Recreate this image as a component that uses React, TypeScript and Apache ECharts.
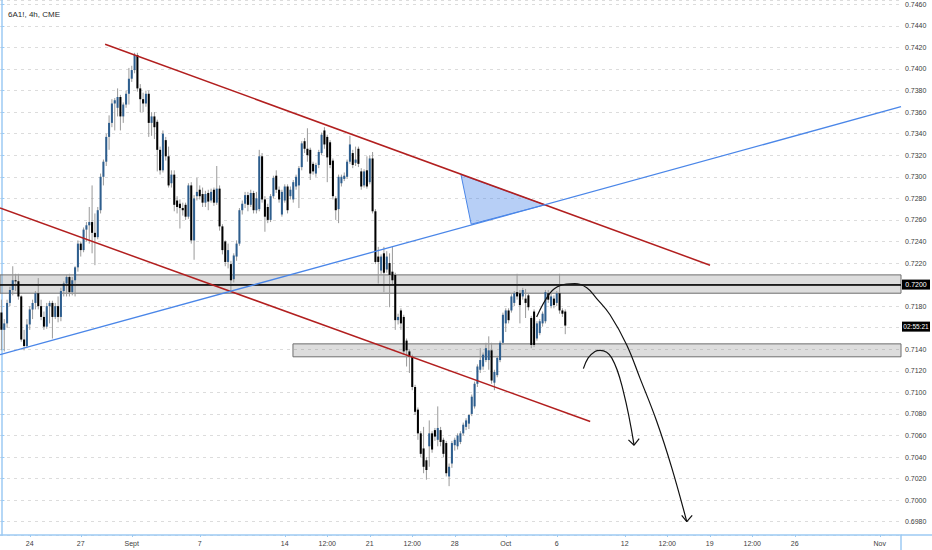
import React, { useEffect, useRef } from 'react';
import * as echarts from 'echarts';

// ---- time axis (4h bars, 6 bars per trading day) ----
const barCount = 318;
const categories = Array.from({ length: barCount }, (_, i) => String(i));
const tickBars = [10, 28, 46, 70, 100, 115, 130, 145, 160, 178, 196, 220, 235, 250, 265, 280, 310];
const tickLabels = ['24', '27', 'Sept', '7', '14', '12:00', '21', '12:00', '28', 'Oct', '6', '12', '12:00', '19', '12:00', '26', 'Nov'];

// ---- price candles: [open, close, low, high] ----
const candles: number[][] = [
  [0.7174, 0.7158, 0.7139, 0.7186], [0.7158, 0.7164, 0.7138, 0.7168], [0.7164, 0.7183, 0.7160, 0.7186], [0.7183, 0.7195, 0.7180, 0.7198],
  [0.7195, 0.7204, 0.7190, 0.7217], [0.7204, 0.7203, 0.7194, 0.7210], [0.7203, 0.7189, 0.7186, 0.7210], [0.7189, 0.7149, 0.7147, 0.7190],
  [0.7149, 0.7143, 0.7139, 0.7158], [0.7143, 0.7163, 0.7141, 0.7168], [0.7163, 0.7177, 0.7158, 0.7180], [0.7177, 0.7183, 0.7168, 0.7186],
  [0.7183, 0.7192, 0.7177, 0.7194], [0.7192, 0.7180, 0.7177, 0.7206], [0.7180, 0.7170, 0.7167, 0.7186], [0.7170, 0.7161, 0.7158, 0.7175],
  [0.7161, 0.7180, 0.7159, 0.7183], [0.7180, 0.7183, 0.7164, 0.7185], [0.7183, 0.7170, 0.7150, 0.7185], [0.7170, 0.7180, 0.7168, 0.7183],
  [0.7180, 0.7170, 0.7165, 0.7189], [0.7170, 0.7194, 0.7166, 0.7197], [0.7194, 0.7201, 0.7189, 0.7203], [0.7201, 0.7207, 0.7189, 0.7209],
  [0.7207, 0.7193, 0.7189, 0.7210], [0.7193, 0.7204, 0.7190, 0.7207], [0.7204, 0.7216, 0.7189, 0.7217], [0.7216, 0.7238, 0.7212, 0.7241],
  [0.7238, 0.7232, 0.7226, 0.7240], [0.7232, 0.7251, 0.7230, 0.7253], [0.7251, 0.7255, 0.7240, 0.7258], [0.7255, 0.7258, 0.7238, 0.7272],
  [0.7258, 0.7248, 0.7229, 0.7292], [0.7248, 0.7244, 0.7218, 0.7266], [0.7244, 0.7269, 0.7242, 0.7272], [0.7269, 0.7300, 0.7266, 0.7303],
  [0.7300, 0.7314, 0.7292, 0.7316], [0.7314, 0.7337, 0.7310, 0.7340], [0.7337, 0.7350, 0.7325, 0.7357], [0.7350, 0.7368, 0.7346, 0.7372],
  [0.7368, 0.7371, 0.7343, 0.7373], [0.7364, 0.7374, 0.7356, 0.7382], [0.7374, 0.7356, 0.7343, 0.7376], [0.7356, 0.7367, 0.7350, 0.7369],
  [0.7367, 0.7377, 0.7364, 0.7380], [0.7377, 0.7391, 0.7367, 0.7401], [0.7391, 0.7399, 0.7388, 0.7403], [0.7399, 0.7413, 0.7396, 0.7415],
  [0.7413, 0.7382, 0.7379, 0.7415], [0.7382, 0.7372, 0.7360, 0.7386], [0.7372, 0.7368, 0.7360, 0.7378], [0.7368, 0.7377, 0.7365, 0.7380],
  [0.7377, 0.7350, 0.7337, 0.7380], [0.7350, 0.7356, 0.7338, 0.7360], [0.7356, 0.7346, 0.7335, 0.7360], [0.7351, 0.7325, 0.7305, 0.7353],
  [0.7325, 0.7306, 0.7302, 0.7328], [0.7306, 0.7340, 0.7304, 0.7343], [0.7334, 0.7319, 0.7315, 0.7337], [0.7319, 0.7292, 0.7290, 0.7328],
  [0.7294, 0.7302, 0.7290, 0.7306], [0.7302, 0.7274, 0.7268, 0.7306], [0.7278, 0.7272, 0.7266, 0.7282], [0.7275, 0.7271, 0.7252, 0.7279],
  [0.7271, 0.7269, 0.7264, 0.7276], [0.7274, 0.7263, 0.7260, 0.7276], [0.7263, 0.7292, 0.7261, 0.7294], [0.7292, 0.7241, 0.7238, 0.7295],
  [0.7241, 0.7280, 0.7223, 0.7283], [0.7282, 0.7286, 0.7278, 0.7299], [0.7288, 0.7282, 0.7279, 0.7292], [0.7284, 0.7276, 0.7272, 0.7290],
  [0.7276, 0.7284, 0.7272, 0.7287], [0.7285, 0.7277, 0.7269, 0.7288], [0.7278, 0.7286, 0.7276, 0.7289], [0.7288, 0.7276, 0.7273, 0.7290],
  [0.7276, 0.7289, 0.7274, 0.7310], [0.7289, 0.7254, 0.7250, 0.7292], [0.7254, 0.7232, 0.7228, 0.7256], [0.7240, 0.7221, 0.7217, 0.7241],
  [0.7221, 0.7232, 0.7215, 0.7238], [0.7219, 0.7204, 0.7193, 0.7222], [0.7205, 0.7227, 0.7202, 0.7229], [0.7226, 0.7238, 0.7222, 0.7241],
  [0.7238, 0.7269, 0.7236, 0.7271], [0.7269, 0.7275, 0.7265, 0.7278], [0.7275, 0.7283, 0.7271, 0.7286], [0.7283, 0.7274, 0.7268, 0.7286],
  [0.7274, 0.7285, 0.7272, 0.7288], [0.7285, 0.7269, 0.7266, 0.7287], [0.7269, 0.7280, 0.7266, 0.7286], [0.7270, 0.7319, 0.7268, 0.7325],
  [0.7319, 0.7279, 0.7276, 0.7322], [0.7279, 0.7263, 0.7249, 0.7282], [0.7272, 0.7260, 0.7257, 0.7275], [0.7260, 0.7282, 0.7258, 0.7284],
  [0.7282, 0.7299, 0.7280, 0.7301], [0.7301, 0.7288, 0.7285, 0.7306], [0.7288, 0.7279, 0.7276, 0.7291], [0.7265, 0.7286, 0.7263, 0.7288],
  [0.7278, 0.7291, 0.7276, 0.7293], [0.7291, 0.7269, 0.7266, 0.7293], [0.7282, 0.7288, 0.7279, 0.7291], [0.7279, 0.7295, 0.7276, 0.7297],
  [0.7291, 0.7300, 0.7288, 0.7302], [0.7292, 0.7308, 0.7271, 0.7310], [0.7309, 0.7331, 0.7306, 0.7333], [0.7333, 0.7326, 0.7322, 0.7336],
  [0.7326, 0.7320, 0.7314, 0.7345], [0.7325, 0.7303, 0.7297, 0.7327], [0.7312, 0.7305, 0.7302, 0.7314], [0.7303, 0.7311, 0.7300, 0.7313],
  [0.7311, 0.7323, 0.7308, 0.7325], [0.7322, 0.7339, 0.7320, 0.7341], [0.7343, 0.7330, 0.7326, 0.7346], [0.7337, 0.7318, 0.7295, 0.7339],
  [0.7332, 0.7311, 0.7308, 0.7334], [0.7315, 0.7282, 0.7279, 0.7317], [0.7280, 0.7269, 0.7260, 0.7282], [0.7270, 0.7300, 0.7257, 0.7302],
  [0.7294, 0.7300, 0.7291, 0.7302], [0.7298, 0.7301, 0.7296, 0.7304], [0.7300, 0.7314, 0.7298, 0.7316], [0.7314, 0.7330, 0.7312, 0.7338],
  [0.7322, 0.7311, 0.7308, 0.7325], [0.7313, 0.7316, 0.7310, 0.7328], [0.7326, 0.7312, 0.7309, 0.7328], [0.7305, 0.7291, 0.7288, 0.7308],
  [0.7292, 0.7305, 0.7290, 0.7307], [0.7306, 0.7291, 0.7289, 0.7319], [0.7295, 0.7317, 0.7293, 0.7320], [0.7317, 0.7268, 0.7266, 0.7323],
  [0.7268, 0.7221, 0.7219, 0.7270], [0.7226, 0.7221, 0.7201, 0.7235], [0.7213, 0.7226, 0.7210, 0.7228], [0.7229, 0.7211, 0.7193, 0.7235],
  [0.7214, 0.7226, 0.7211, 0.7231], [0.7220, 0.7209, 0.7179, 0.7229], [0.7212, 0.7204, 0.7200, 0.7235], [0.7209, 0.7167, 0.7158, 0.7211],
  [0.7167, 0.7170, 0.7163, 0.7173], [0.7176, 0.7164, 0.7158, 0.7178], [0.7170, 0.7138, 0.7135, 0.7172], [0.7148, 0.7139, 0.7124, 0.7150],
  [0.7138, 0.7133, 0.7118, 0.7140], [0.7133, 0.7105, 0.7102, 0.7135], [0.7105, 0.7082, 0.7079, 0.7107], [0.7084, 0.7062, 0.7056, 0.7086],
  [0.7062, 0.7043, 0.7040, 0.7064], [0.7048, 0.7031, 0.7025, 0.7068], [0.7037, 0.7028, 0.7019, 0.7040], [0.7050, 0.7062, 0.7031, 0.7074],
  [0.7062, 0.7047, 0.7044, 0.7064], [0.7065, 0.7059, 0.7055, 0.7067], [0.7056, 0.7067, 0.7050, 0.7087], [0.7065, 0.7054, 0.7050, 0.7068],
  [0.7056, 0.7043, 0.7040, 0.7058], [0.7053, 0.7025, 0.7022, 0.7055], [0.7022, 0.7031, 0.7013, 0.7034], [0.7034, 0.7053, 0.7030, 0.7055],
  [0.7051, 0.7056, 0.7046, 0.7058], [0.7050, 0.7060, 0.7047, 0.7062], [0.7054, 0.7062, 0.7052, 0.7064], [0.7062, 0.7070, 0.7060, 0.7072],
  [0.7068, 0.7074, 0.7065, 0.7076], [0.7071, 0.7079, 0.7066, 0.7080], [0.7080, 0.7096, 0.7078, 0.7098], [0.7087, 0.7108, 0.7085, 0.7110],
  [0.7108, 0.7124, 0.7105, 0.7126], [0.7121, 0.7130, 0.7118, 0.7141], [0.7124, 0.7135, 0.7121, 0.7137], [0.7130, 0.7141, 0.7128, 0.7146],
  [0.7130, 0.7139, 0.7121, 0.7152], [0.7139, 0.7111, 0.7108, 0.7146], [0.7109, 0.7119, 0.7102, 0.7121], [0.7116, 0.7132, 0.7114, 0.7134],
  [0.7130, 0.7146, 0.7128, 0.7148], [0.7146, 0.7172, 0.7144, 0.7174], [0.7164, 0.7176, 0.7156, 0.7178], [0.7176, 0.7167, 0.7164, 0.7178],
  [0.7176, 0.7189, 0.7174, 0.7191], [0.7183, 0.7192, 0.7180, 0.7194], [0.7193, 0.7189, 0.7186, 0.7210], [0.7192, 0.7181, 0.7164, 0.7195],
  [0.7189, 0.7195, 0.7186, 0.7197], [0.7187, 0.7183, 0.7169, 0.7196], [0.7190, 0.7179, 0.7176, 0.7192], [0.7169, 0.7144, 0.7141, 0.7171],
  [0.7175, 0.7144, 0.7142, 0.7177], [0.7150, 0.7164, 0.7148, 0.7166], [0.7155, 0.7166, 0.7153, 0.7168], [0.7164, 0.7173, 0.7161, 0.7175],
  [0.7166, 0.7193, 0.7164, 0.7195], [0.7192, 0.7186, 0.7183, 0.7195], [0.7180, 0.7189, 0.7178, 0.7192], [0.7187, 0.7181, 0.7178, 0.7190],
  [0.7183, 0.7192, 0.7180, 0.7194], [0.7192, 0.7176, 0.7173, 0.7210], [0.7176, 0.7173, 0.7170, 0.7178], [0.7175, 0.7162, 0.7154, 0.7177],
];

// ---- drawings: [bar, price] ----
const upperRedLine = [[36.6, 0.7423], [250.1, 0.7218]];
const lowerRedLine = [[-0.5, 0.7271], [207.8, 0.7073]];
const blueLine = [[-0.5, 0.7135], [317.5, 0.7365]];
const blueTriangle = [[162.2, 0.7302], [165.8, 0.7256], [191.8, 0.7274]];
// zones: [fromBar, toBar, topPrice, bottomPrice]
const zones = [
  [-0.5, 317.5, 0.7209, 0.7200],
  [-0.5, 317.5, 0.7200, 0.7192],
  [102.9, 317.5, 0.7145, 0.7133],
];
const levelPrice = 0.72;
const lastPrice = 0.7161;
const countdown = '02:55:21';
const bigArc = [[188.9, 0.7170], [193.6, 0.7192], [197.1, 0.7199], [202.4, 0.7201], [206.6, 0.7197], [210.1, 0.7187], [214.8, 0.7172], [220.7, 0.7144], [225.4, 0.7113], [231.3, 0.7073], [236.6, 0.7030], [241.9, 0.6980]];
const bigHead = [[240.1, 0.6986], [241.9, 0.6980], [243.8, 0.6986]];
const smallArc = [[205.4, 0.7122], [207.1, 0.7132], [209.5, 0.7138], [211.3, 0.7139], [215.4, 0.7132], [219.5, 0.7101], [223.3, 0.7051]];
const smallHead = [[221.3, 0.7056], [223.3, 0.7051], [225.1, 0.7057]];

const FONT = '"Liberation Sans", Arial, sans-serif';
const AXIS_BLUE = '#9ccaf3';
const UP = '#2e5e8e';
const DOWN = '#000000';
const WICK = '#9a9a9a';

function lineSeries(data: number[][], color: string, width: number, z: number, smooth: boolean | number = false) {
  return {
    type: 'line',
    xAxisIndex: 1,
    yAxisIndex: 0,
    data,
    smooth,
    symbol: 'none',
    silent: true,
    z,
    lineStyle: { color, width },
  };
}

function priceTag(y: number, text: string, fontSize: number) {
  return {
    type: 'group',
    silent: true,
    z: 100,
    children: [
      { type: 'rect', shape: { x: 902, y: y - 5, width: 28, height: 10 }, style: { fill: '#000' } },
      {
        type: 'text',
        x: 916,
        y: y,
        style: { text, fill: '#fff', fontSize, fontFamily: FONT, align: 'center', verticalAlign: 'middle' },
      },
    ],
  };
}

export default function App() {
  const ref = useRef<HTMLDivElement>(null);
  useEffect(() => {
    document.body.style.margin = '0';
    const chart = echarts.init(ref.current!, null, { renderer: 'svg' });
    const tickSet = new Set(tickBars);
    const hiddenAxisLabels = [levelPrice.toFixed(4), lastPrice.toFixed(3) + '0'];
    const cornerLines = [
      { type: 'line', shape: { x1: 901, y1: 535, x2: 932, y2: 535 }, style: { stroke: AXIS_BLUE, lineWidth: 1.5 }, silent: true },
      { type: 'line', shape: { x1: 901, y1: 535, x2: 901, y2: 550 }, style: { stroke: AXIS_BLUE, lineWidth: 1.5 }, silent: true },
    ];
    const option: any = {
      animation: false,
      textStyle: { fontFamily: FONT },
      title: {
        text: '6A1!, 4h, CME',
        left: 3,
        top: 5,
        textStyle: { fontSize: 8, fontWeight: 'normal', color: '#2a2a2a', fontFamily: FONT },
      },
      grid: { left: 0, top: 0, right: 31, bottom: 15, containLabel: false },
      xAxis: [
        {
          type: 'category',
          data: categories,
          boundaryGap: true,
          axisLine: { lineStyle: { color: AXIS_BLUE, width: 1.5 } },
          axisTick: {
            show: true,
            alignWithLabel: true,
            interval: (i: number) => tickSet.has(i),
            length: 2,
            lineStyle: { color: AXIS_BLUE },
          },
          axisLabel: {
            interval: (i: number) => tickSet.has(i),
            formatter: (_v: string, i: number) => {
              const k = tickBars.indexOf(i);
              return k >= 0 ? tickLabels[k] : '';
            },
            fontSize: 7,
            color: '#3c3c3c',
            margin: 5,
            fontFamily: FONT,
          },
          splitLine: { show: false },
        },
        {
          type: 'value',
          min: -0.5,
          max: barCount - 0.5,
          show: false,
          splitLine: { show: false },
        },
      ],
      yAxis: {
        type: 'value',
        position: 'right',
        min: 0.69677,
        max: 0.7464,
        splitNumber: 25,
        minInterval: 0.002,
        maxInterval: 0.002,
        scale: true,
        axisLine: { show: true, lineStyle: { color: AXIS_BLUE, width: 1.5 } },
        axisTick: { show: true, length: 3, lineStyle: { color: AXIS_BLUE } },
        axisLabel: {
          showMinLabel: false,
          showMaxLabel: false,
          formatter: (v: number) => {
            const s = v.toFixed(4);
            return hiddenAxisLabels.includes(s) ? '' : s;
          },
          fontSize: 7,
          color: '#3c3c3c',
          margin: 4,
          fontFamily: FONT,
        },
        splitLine: { show: true, lineStyle: { color: '#dcdcdc', type: [3, 4], width: 1 } },
      },
      graphic: cornerLines,
      series: [
        {
          type: 'line',
          xAxisIndex: 1,
          yAxisIndex: 0,
          data: [],
          z: 1,
          silent: true,
          markArea: {
            silent: true,
            data: zones.map((zn) => [
              {
                xAxis: zn[0],
                yAxis: zn[2],
                itemStyle: { color: 'rgba(128,128,128,0.27)', borderColor: '#6e6e6e', borderWidth: 1 },
              },
              { xAxis: zn[1], yAxis: zn[3] },
            ]),
          },
          markLine: {
            silent: true,
            symbol: ['none', 'none'],
            label: { show: false },
            data: [{ yAxis: levelPrice, lineStyle: { color: '#000', width: 1.5, type: 'solid' } }],
          },
        },
        {
          type: 'custom',
          xAxisIndex: 0,
          yAxisIndex: 0,
          z: 3,
          silent: true,
          data: candles.map((c, i) => [i, c[0], c[1], c[2], c[3]]),
          encode: { x: 0, y: [1, 2, 3, 4] },
          renderItem: (_params: any, api: any) => {
            const i = api.value(0);
            const o = api.value(1);
            const c = api.value(2);
            const lo = api.value(3);
            const hi = api.value(4);
            const pO = api.coord([i, o]);
            const pC = api.coord([i, c]);
            const pL = api.coord([i, lo]);
            const pH = api.coord([i, hi]);
            const w = api.size([1, 0])[0] * 0.72;
            const top = Math.min(pO[1], pC[1]);
            const h = Math.max(1, Math.abs(pO[1] - pC[1]));
            return {
              type: 'group',
              children: [
                { type: 'line', shape: { x1: pH[0], y1: pH[1], x2: pL[0], y2: pL[1] }, style: { stroke: WICK, lineWidth: 1 } },
                { type: 'rect', shape: { x: pO[0] - w / 2, y: top, width: w, height: h }, style: { fill: c >= o ? UP : DOWN } },
              ],
            };
          },
        },
        {
          type: 'custom',
          xAxisIndex: 1,
          yAxisIndex: 0,
          z: 4,
          silent: true,
          data: [[blueTriangle[0][0], blueTriangle[0][1]]],
          renderItem: (_params: any, api: any) => ({
            type: 'polygon',
            shape: { points: blueTriangle.map((p) => api.coord(p)) },
            style: { fill: 'rgba(74,134,232,0.4)', stroke: '#4a86e8', lineWidth: 1 },
          }),
        },
        lineSeries(upperRedLine, '#b21f1f', 1.5, 5),
        lineSeries(lowerRedLine, '#b21f1f', 1.5, 5),
        lineSeries(blueLine, '#4a86e8', 1.3, 5),
        lineSeries(bigArc, '#111111', 1.2, 6, 0.4),
        lineSeries(bigHead, '#111111', 1.2, 6),
        lineSeries(smallArc, '#111111', 1.2, 6, 0.4),
        lineSeries(smallHead, '#111111', 1.2, 6),
      ],
    };
    chart.setOption(option);
    const yLevel = chart.convertToPixel({ yAxisIndex: 0 }, levelPrice) as number;
    const yLast = chart.convertToPixel({ yAxisIndex: 0 }, lastPrice) as number;
    chart.setOption({
      graphic: [...cornerLines, priceTag(yLevel, levelPrice.toFixed(4), 7), priceTag(yLast, countdown, 6.5)],
    });
    return () => chart.dispose();
  }, []);
  return <div ref={ref} style={{ width: 932, height: 550 }} />;
}
